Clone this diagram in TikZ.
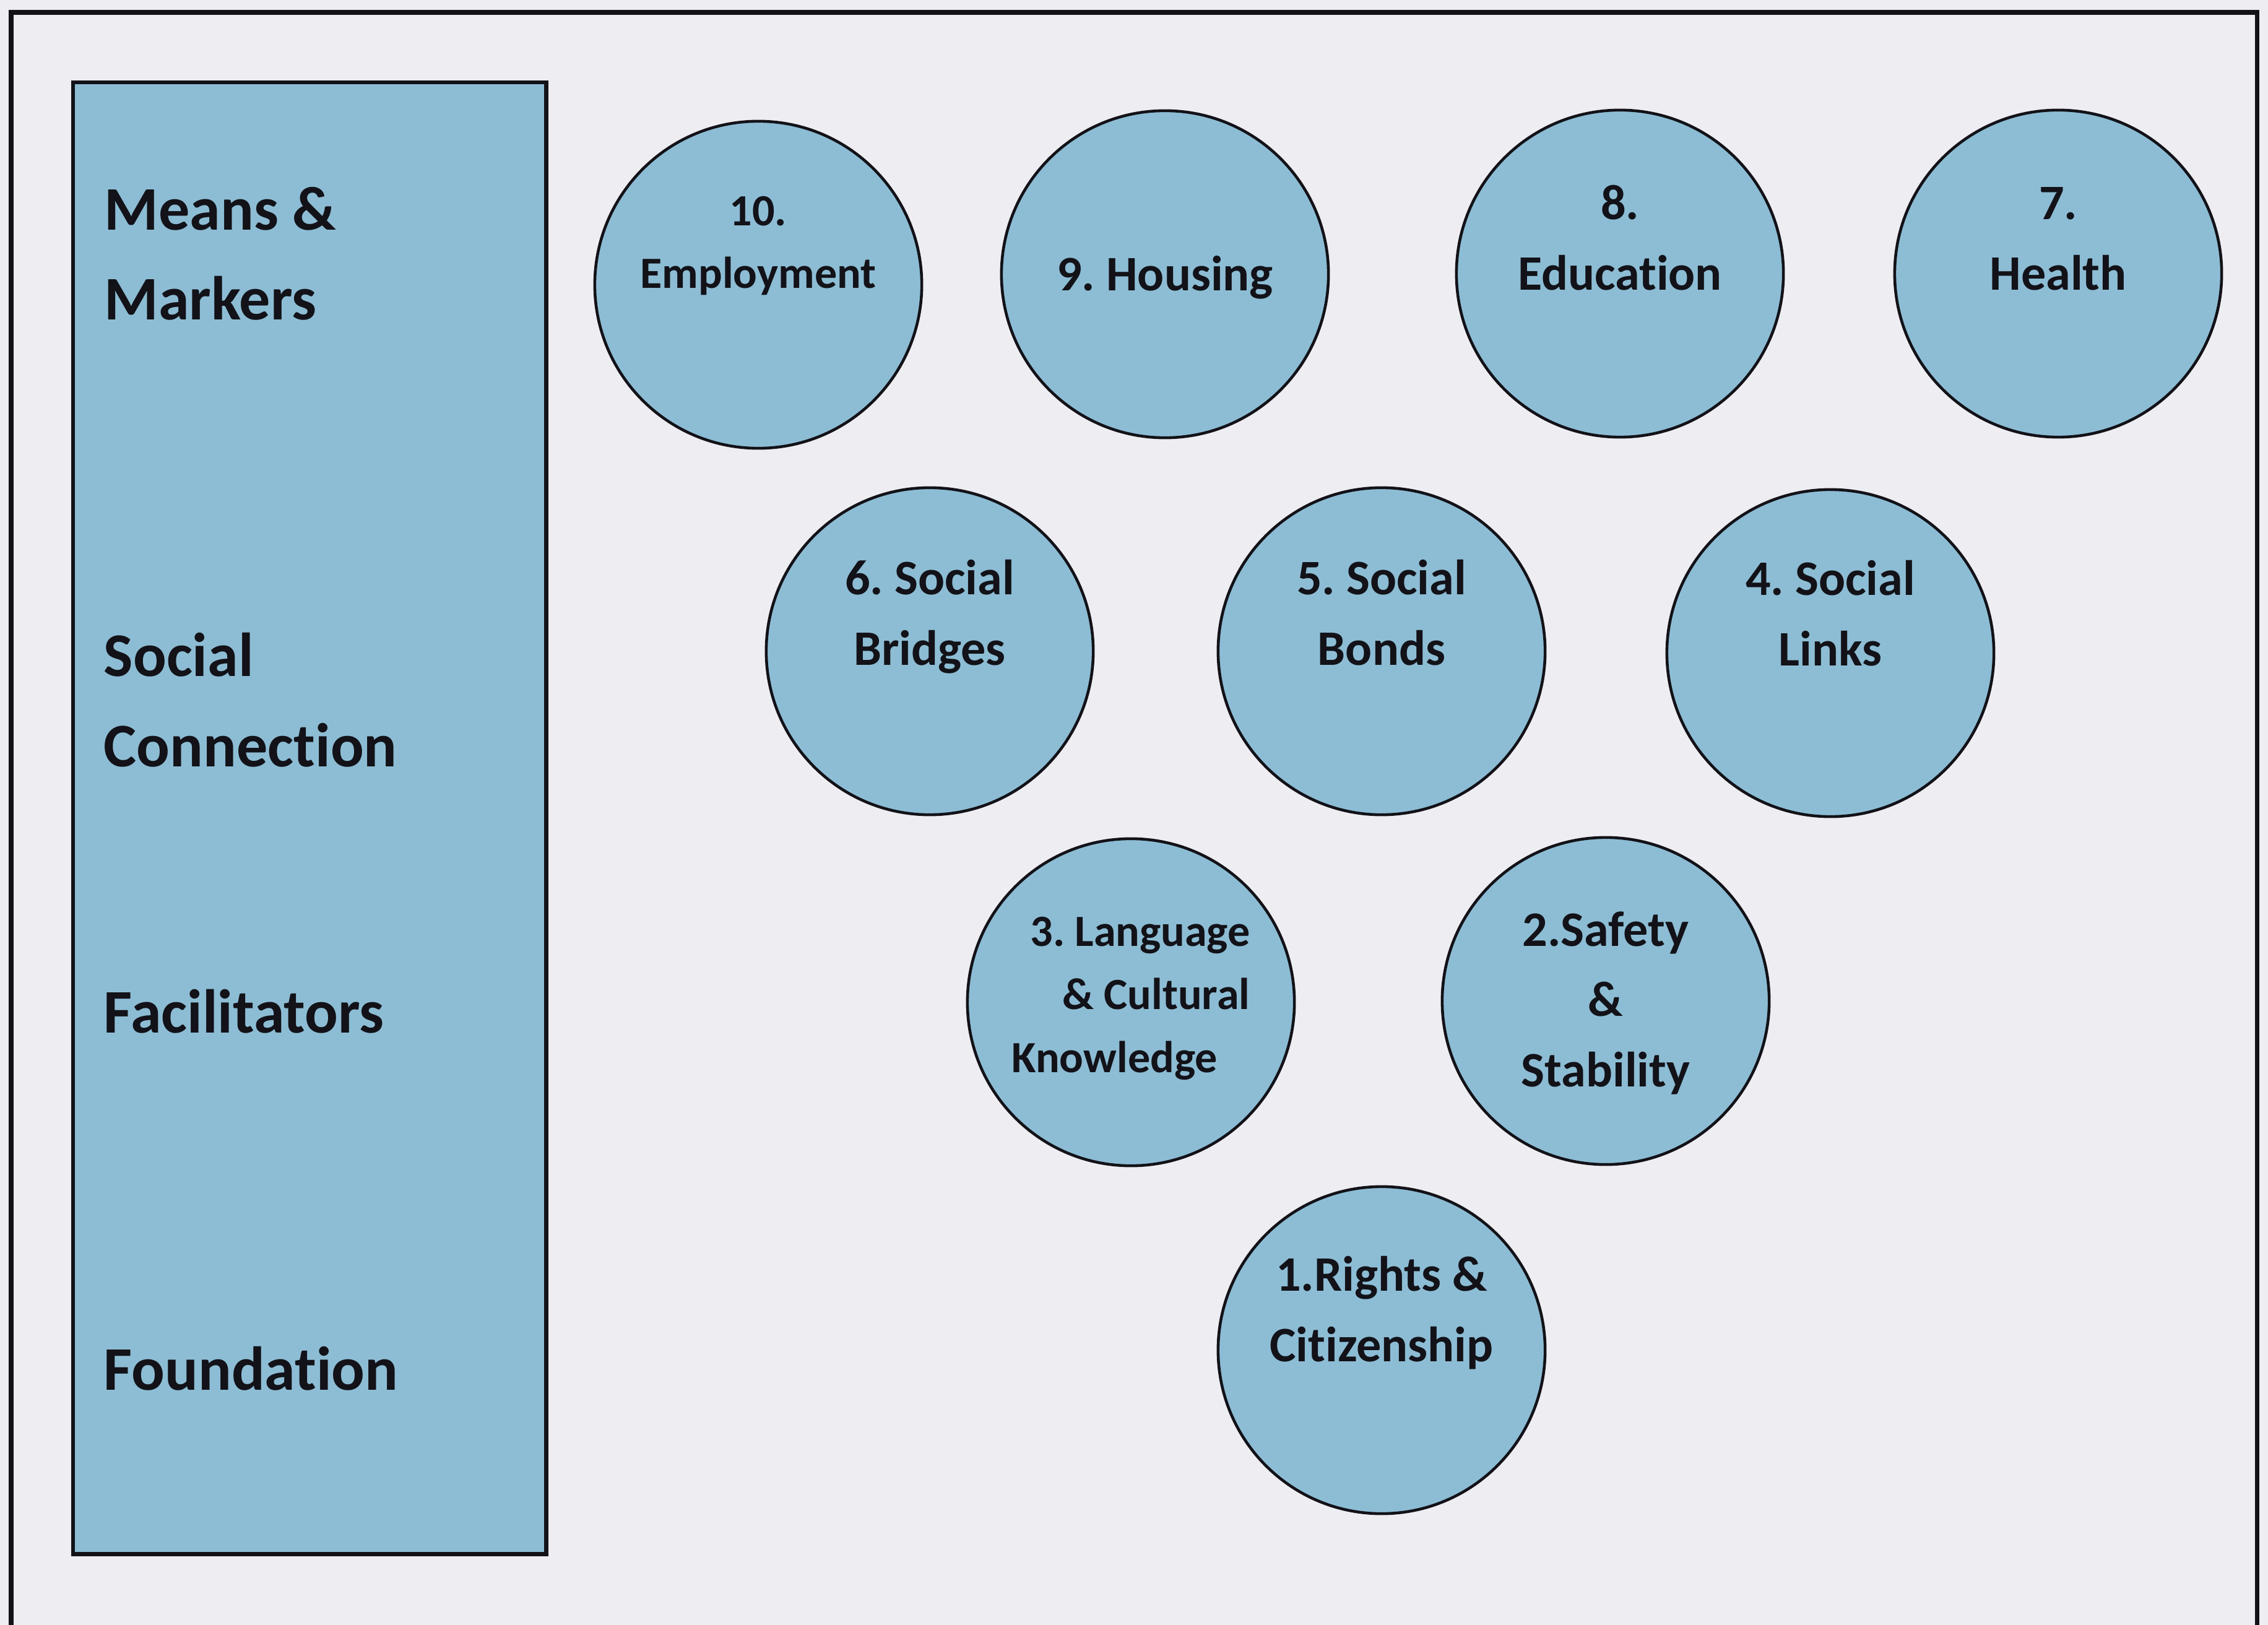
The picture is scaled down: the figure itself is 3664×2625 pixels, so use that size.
\documentclass[tikz,border=0pt]{standalone}
\usepackage{fontspec}
\setmainfont{Carlito}[Ligatures=NoCommon]

\definecolor{paper}{RGB}{237,237,242}
\definecolor{ringblue}{RGB}{141,189,212}
\definecolor{ink}{RGB}{18,18,24}

\begin{document}
\frenchspacing
\begin{tikzpicture}[x=0.01cm,y=-0.01cm]
    \tikzstyle{every node}+=[inner sep=0pt, text=ink]
    \tikzstyle{ring}=[circle, draw=ink, line width=1.3pt, fill=ringblue, minimum size=5.28cm]
    \tikzstyle{ringlabel}=[anchor=base, align=center, font=\bfseries\fontsize{22.8}{32.2}\selectfont]
    \tikzstyle{ringsmall}=[ringlabel, font=\bfseries\fontsize{20.5}{29}\selectfont]
    \tikzstyle{tier}=[anchor=base west, align=left, font=\bfseries\fontsize{28.5}{41.5}\selectfont]

    % paper and outer frame (open at the bottom)
    \fill [paper] (0,0) rectangle (3664,2625);
    \useasboundingbox (0,0) rectangle (3664,2625);
    \draw [ink, line width=2pt] (18,2650) -- (18,20) -- (3646,20) -- (3646,2650);

    % left column with the four levels (base = last line)
    \node [draw=ink, line width=1.8pt, fill=ringblue, anchor=north west,
           minimum width=7.64cm, minimum height=23.76cm] (levels) at (115,130) {};
    \node [tier] (means) at (168,517) {Means \&\\Markers};
    \node [tier] (social) at (167,1238) {Social\\Connection};
    \node [tier] (facilitators) at (167,1668) {Facilitators};
    \node [tier] (foundation) at (167,2245) {Foundation};

    % means & markers
    \node [ring] (employment) at (1225,460) {};
    \node [ringsmall] (employment-txt) at ([yshift=-0.06cm]employment.center) {10.\\Employment};
    \node [ring] (housing) at (1882,443) {};
    \node [ringlabel] (housing-txt) at ([yshift=-0.26cm]housing.center) {9. Housing};
    \node [ring] (education) at (2617,442) {};
    \node [ringlabel] (education-txt) at ([yshift=-0.26cm]education.center) {8.\\Education};
    \node [ring] (health) at (3325,442) {};
    \node [ringlabel] (health-txt) at ([yshift=-0.26cm]health.center) {7.\\Health};

    % social connection
    \node [ring] (bridges) at (1502,1052) {};
    \node [ringlabel] (bridges-txt) at ([yshift=-0.22cm]bridges.center) {6. Social\\Bridges};
    \node [ring] (bonds) at (2232,1052) {};
    \node [ringlabel] (bonds-txt) at ([yshift=-0.22cm]bonds.center) {5. Social\\Bonds};
    \node [ring] (links) at (2957,1055) {};
    \node [ringlabel] (links-txt) at ([yshift=-0.2cm]links.center) {4. Social\\Links};

    % facilitators
    \node [ring] (language) at (1827,1619) {};
    \node [ringsmall, align=left] (language-txt) at ([yshift=-1.13cm]language.center)
        {\hspace*{0.30cm}3. Language\\\hspace*{0.82cm}\& Cultural\\Knowledge};
    \node [ring] (safety) at (2594,1617) {};
    \node [ringlabel] (safety-txt) at ([yshift=-1.38cm]safety.center) {2.Safety\\\&\\Stability};

    % foundation
    \node [ring] (rights) at (2232,2181) {};
    \node [ringlabel] (rights-txt) at ([yshift=-0.18cm]rights.center) {1.Rights \&\\Citizenship};
\end{tikzpicture}
\end{document}
